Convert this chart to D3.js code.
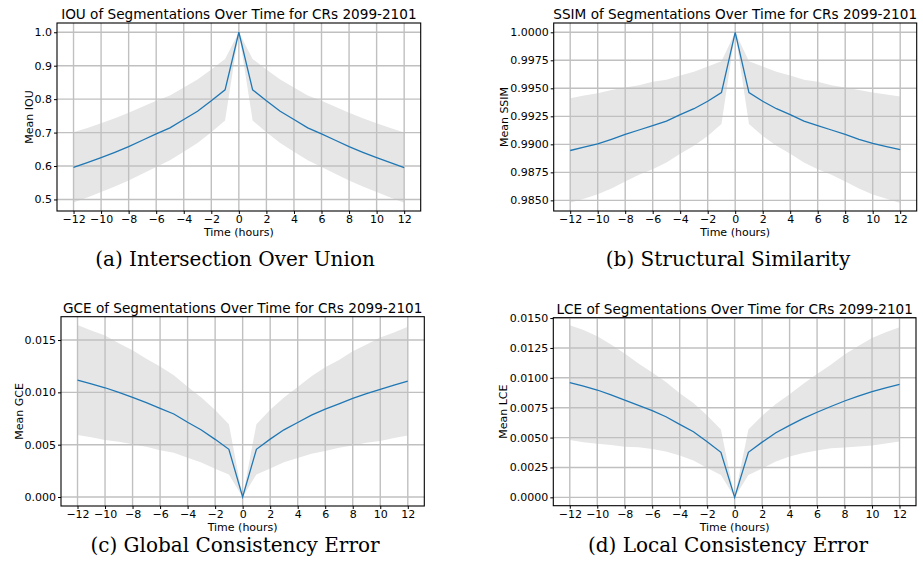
<!DOCTYPE html>
<html>
<head>
<meta charset="utf-8">
<script src="https://cdn.jsdelivr.net/npm/d3@7"></script>
<style>
  body { margin: 0; background: #fff; }
  svg { display: block; }
  .tick text { font-family: "DejaVu Sans", sans-serif; font-size: 11px; fill: #000; }
  .titulo { font-family: "DejaVu Sans", sans-serif; font-size: 13.6px; }
  .rotulo { font-family: "DejaVu Sans", sans-serif; font-size: 11px; }
  .legenda { font-family: "DejaVu Serif", serif; font-size: 20px; }
</style>
</head>
<body>
<svg id="fig" width="923" height="569"></svg>
<script>
// horas relativas ao evento
const horas = d3.range(-12, 13);

// IOU - media e desvio
const iou_media = [0.596, 0.610, 0.625, 0.641, 0.658, 0.677, 0.696, 0.714, 0.739, 0.764, 0.795, 0.828,
                   1.000,
                   0.828, 0.795, 0.764, 0.739, 0.714, 0.696, 0.677, 0.658, 0.641, 0.625, 0.610, 0.595];
const iou_desvio = [0.105, 0.104, 0.103, 0.102, 0.101, 0.100, 0.099, 0.097, 0.096, 0.095, 0.094, 0.092,
                    0.000,
                    0.092, 0.094, 0.095, 0.096, 0.097, 0.099, 0.100, 0.101, 0.102, 0.103, 0.104, 0.105];

// SSIM
const ssim_media = [0.98945, 0.98975, 0.99005, 0.99045, 0.99088, 0.99128, 0.99168, 0.99207, 0.99265, 0.99318, 0.99385, 0.99462,
                    1.00000,
                    0.99462, 0.99385, 0.99318, 0.99265, 0.99207, 0.99168, 0.99128, 0.99088, 0.99045, 0.99008, 0.98980, 0.98952];
const ssim_desvio = [0.00467, 0.00460, 0.00450, 0.00440, 0.00420, 0.00400, 0.00390, 0.00370, 0.00350, 0.00330, 0.00310, 0.00280,
                     0.00000,
                     0.00280, 0.00310, 0.00330, 0.00350, 0.00370, 0.00390, 0.00400, 0.00420, 0.00440, 0.00455, 0.00465, 0.00476];

// GCE
const gce_media = [0.01118, 0.01082, 0.01044, 0.00999, 0.00953, 0.00901, 0.00847, 0.00793, 0.00714, 0.00640, 0.00551, 0.00456,
                   0.00000,
                   0.00456, 0.00553, 0.00642, 0.00712, 0.00783, 0.00840, 0.00890, 0.00942, 0.00988, 0.01029, 0.01068, 0.01108];
const gce_desvio = [0.00526, 0.00510, 0.00500, 0.00470, 0.00450, 0.00420, 0.00400, 0.00370, 0.00340, 0.00310, 0.00280, 0.00240,
                    0.00000,
                    0.00240, 0.00280, 0.00310, 0.00340, 0.00370, 0.00400, 0.00420, 0.00450, 0.00470, 0.00495, 0.00505, 0.00520];

// LCE
const lce_media = [0.00959, 0.00930, 0.00898, 0.00858, 0.00814, 0.00770, 0.00725, 0.00674, 0.00611, 0.00549, 0.00465, 0.00377,
                   0.00000,
                   0.00377, 0.00462, 0.00540, 0.00602, 0.00661, 0.00712, 0.00760, 0.00806, 0.00846, 0.00884, 0.00916, 0.00945];
const lce_desvio = [0.00480, 0.00470, 0.00450, 0.00420, 0.00390, 0.00350, 0.00320, 0.00290, 0.00260, 0.00240, 0.00220, 0.00190,
                    0.00000,
                    0.00190, 0.00220, 0.00240, 0.00260, 0.00290, 0.00320, 0.00350, 0.00390, 0.00420, 0.00450, 0.00465, 0.00478];

// ticks
const x_ticks = d3.range(-12, 13, 2);
const iou_ticks = [0.5, 0.6, 0.7, 0.8, 0.9, 1.0];
const ssim_ticks = [0.9850, 0.9875, 0.9900, 0.9925, 0.9950, 0.9975, 1.0000];
const gce_ticks = [0.000, 0.005, 0.010, 0.015];
const lce_ticks = [0.0000, 0.0025, 0.0050, 0.0075, 0.0100, 0.0125, 0.0150];

const $svg = d3.select("#fig");

// um painel por metrica
const desenha_painel = function(p) {
    const dados = horas.map((h, i) => ({ h: h, m: p.media[i], s: p.desvio[i] }));

    const sx = d3.scaleLinear().domain([-13.2, 13.2]).range([p.x0, p.x1]);
    const sy = d3.scaleLinear().domain(p.dominio).range([p.y1, p.y0]);

    const g = $svg.append("g");

    // faixa de desvio
    const area = d3.area()
        .x(d => sx(d.h))
        .y0(d => sy(d.m - d.s))
        .y1(d => sy(d.m + d.s));
    g.append("path").datum(dados)
        .attr("d", area)
        .attr("fill", "#e6e6e6");

    // grade
    g.selectAll(".gx").data(x_ticks).enter().append("line")
        .attr("x1", d => sx(d)).attr("x2", d => sx(d))
        .attr("y1", p.y0).attr("y2", p.y1)
        .attr("stroke", "#c0c0c0").attr("stroke-width", 1.4);
    g.selectAll(".gy").data(p.ticks).enter().append("line")
        .attr("x1", p.x0).attr("x2", p.x1)
        .attr("y1", d => sy(d)).attr("y2", d => sy(d))
        .attr("stroke", "#c0c0c0").attr("stroke-width", 1.4);

    // linha media
    const linha = d3.line().x(d => sx(d.h)).y(d => sy(d.m));
    g.append("path").datum(dados)
        .attr("d", linha)
        .attr("fill", "none")
        .attr("stroke", "#1f77b4")
        .attr("stroke-width", 1.3);

    // eixos
    const eixo_x = d3.axisBottom(sx).tickValues(x_ticks).tickSize(3).tickPadding(1.5)
        .tickFormat(d3.format("d"));
    g.append("g").attr("transform", `translate(0,${p.y1})`).call(eixo_x)
        .call(s => s.select(".domain").remove());
    const eixo_y = d3.axisLeft(sy).tickValues(p.ticks).tickSize(3).tickPadding(2)
        .tickFormat(d3.format(p.fmt));
    g.append("g").attr("transform", `translate(${p.x0},0)`).call(eixo_y)
        .call(s => s.select(".domain").remove());

    // moldura
    g.append("rect")
        .attr("x", p.x0).attr("y", p.y0)
        .attr("width", p.x1 - p.x0).attr("height", p.y1 - p.y0)
        .attr("fill", "none").attr("stroke", "#000").attr("stroke-width", 1.1);

    // textos
    g.append("text").attr("class", "titulo")
        .attr("x", (p.x0 + p.x1) / 2).attr("y", p.y0 - 4)
        .attr("text-anchor", "middle")
        .text(p.titulo);
    g.append("text").attr("class", "rotulo")
        .attr("x", (p.x0 + p.x1) / 2).attr("y", p.y1 + 25)
        .attr("text-anchor", "middle")
        .text("Time (hours)");
    g.append("text").attr("class", "rotulo")
        .attr("transform", `translate(${p.xlab},${(p.y0 + p.y1) / 2}) rotate(-90)`)
        .attr("text-anchor", "middle")
        .text(p.ylabel);
    g.append("text").attr("class", "legenda")
        .attr("x", p.cap_x).attr("y", p.cap_y)
        .attr("text-anchor", "middle")
        .text(p.legenda);
}

desenha_painel({
    media: iou_media, desvio: iou_desvio, ticks: iou_ticks, fmt: ".1f",
    dominio: [0.4655, 1.0277],
    x0: 57, x1: 420.7, y0: 23, y1: 211,
    titulo: "IOU of Segmentations Over Time for CRs 2099-2101",
    ylabel: "Mean IOU", xlab: 33,
    legenda: "(a) Intersection Over Union", cap_x: 235, cap_y: 266
});
desenha_painel({
    media: ssim_media, desvio: ssim_desvio, ticks: ssim_ticks, fmt: ".4f",
    dominio: [0.98405, 1.00083],
    x0: 553.7, x1: 916.7, y0: 23, y1: 211,
    titulo: "SSIM of Segmentations Over Time for CRs 2099-2101",
    ylabel: "Mean SSIM", xlab: 508,
    legenda: "(b) Structural Similarity", cap_x: 728, cap_y: 266
});
desenha_painel({
    media: gce_media, desvio: gce_desvio, ticks: gce_ticks, fmt: ".3f",
    dominio: [-0.00086, 0.01723],
    x0: 61, x1: 424.3, y0: 316.7, y1: 506,
    titulo: "GCE of Segmentations Over Time for CRs 2099-2101",
    ylabel: "Mean GCE", xlab: 23,
    legenda: "(c) Global Consistency Error", cap_x: 235, cap_y: 552
});
desenha_painel({
    media: lce_media, desvio: lce_desvio, ticks: lce_ticks, fmt: ".4f",
    dominio: [-0.0007, 0.01503],
    x0: 553.3, x1: 916, y0: 317.7, y1: 505.7,
    titulo: "LCE of Segmentations Over Time for CRs 2099-2101",
    ylabel: "Mean LCE", xlab: 507,
    legenda: "(d) Local Consistency Error", cap_x: 728, cap_y: 552
});
</script>
</body>
</html>
